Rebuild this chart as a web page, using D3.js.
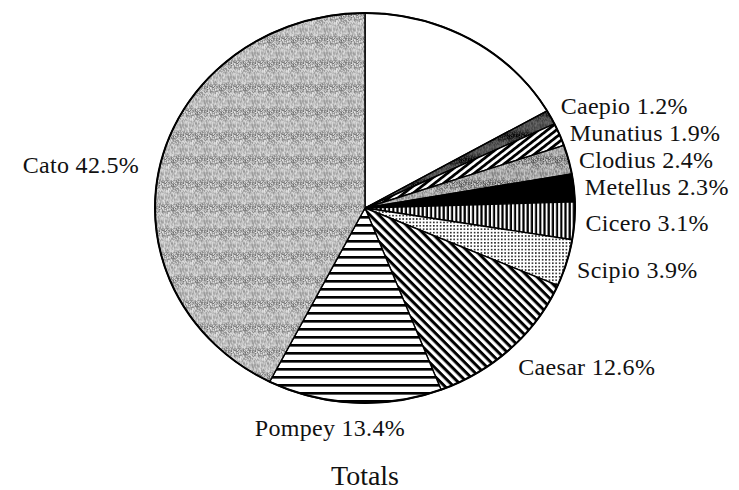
<!DOCTYPE html>
<html>
<head>
<meta charset="utf-8">
<script src="https://cdn.jsdelivr.net/npm/d3@7"></script>
<style>
  body { margin: 0; background: #fff; }
</style>
</head>
<body>
<script>
// slices in drawing order, clockwise from 12 o'clock (first one is the unlabeled rest)
const names  = ["", "Caepio", "Munatius", "Clodius", "Metellus", "Cicero", "Scipio", "Caesar", "Pompey", "Cato"];
const shares = [16.7, 1.2, 1.9, 2.4, 2.3, 3.1, 3.9, 12.6, 13.4, 42.5];
const fills  = ["plain", "darkDots", "slash", "greyDots", "solid", "vert", "dots", "backslash", "horiz", "lightDots"];
const title  = "Totals";

let width = 739, height = 490;
let cx = 365, cy = 208, rx = 210, ry = 195;
let k = ry / rx;
let serif = "'Liberation Serif', 'Times New Roman', Tinos, Times, serif";

let svg = d3.select("body").append("svg")
    .attr("width", width)
    .attr("height", height)
    .attr("font-family", serif);

let defs = svg.append("defs");
let fix = `scale(1, ${1 / k})`; // undo the vertical squash of the pie group

function stripes(id, period, thick, rotate) {
    let p = defs.append("pattern")
        .attr("id", id)
        .attr("patternUnits", "userSpaceOnUse")
        .attr("width", period).attr("height", period)
        .attr("patternTransform", `${fix} rotate(${rotate})`);
    p.append("rect").attr("width", period).attr("height", period).attr("fill", "#fff");
    p.append("rect").attr("width", period).attr("height", thick).attr("fill", "#000");
}

stripes("slash", 5.5, 2.8, -38);
stripes("backslash", 6.2, 3, 45);
stripes("vert", 4.2, 2.2, 90);
stripes("horiz", 8, 2.6, 0);

let dp = defs.append("pattern")
    .attr("id", "dots")
    .attr("patternUnits", "userSpaceOnUse")
    .attr("width", 3.4).attr("height", 3.4)
    .attr("patternTransform", fix);
dp.append("rect").attr("width", 3.4).attr("height", 3.4).attr("fill", "#fff");
dp.append("rect").attr("width", 1.6).attr("height", 1.6).attr("fill", "#222");

// speckled greys, fixed hash so the texture is the same every time
function hash(i, j) {
    let s = Math.sin(i * 12.9898 + j * 78.233) * 43758.5453;
    return s - Math.floor(s);
}

function speckle(id, base, spread) {
    let n = 24;
    let p = defs.append("pattern")
        .attr("id", id)
        .attr("patternUnits", "userSpaceOnUse")
        .attr("width", n).attr("height", n)
        .attr("patternTransform", fix);
    for (let i = 0; i < n; i++) {
        for (let j = 0; j < n; j++) {
            let h = hash(i, j) - 0.5;
            let v = Math.max(0, Math.min(255, Math.round(base + h * spread)));
            p.append("rect")
                .attr("x", i).attr("y", j)
                .attr("width", 1).attr("height", 1)
                .attr("fill", d3.rgb(v, v, v));
        }
    }
}

speckle("lightDots", 168, 120);
speckle("greyDots", 140, 130);
speckle("darkDots", 30, 80);

let pie = d3.pie().sort(null).value((d) => d);
let arcs = pie(shares);

let arc = d3.arc().innerRadius(0).outerRadius(rx);

let g = svg.append("g")
    .attr("transform", `translate(${cx}, ${cy}) scale(1, ${k})`);

g.selectAll("path")
    .data(arcs)
    .enter()
        .append("path")
        .attr("d", arc)
        .attr("fill", (d, i) => {
            let f = fills[i];
            if (f == "plain") return "#fff";
            if (f == "solid") return "#000";
            return `url(#${f})`;
        })
        .attr("stroke", "#000")
        .attr("stroke-width", 1.4)
        .attr("stroke-linejoin", "round")
        .attr("vector-effect", "non-scaling-stroke");

g.append("ellipse")
    .attr("rx", rx).attr("ry", rx)
    .attr("fill", "none")
    .attr("stroke", "#000")
    .attr("stroke-width", 2)
    .attr("vector-effect", "non-scaling-stroke");

// label positions on a bigger ellipse at the mid angle
let lrx = rx + 11, lry = ry + 25;
let labels = arcs.map((d, i) => {
    let a = (d.startAngle + d.endAngle) / 2;
    let s = Math.sin(a);
    return {
        text: names[i] ? `${names[i]} ${shares[i].toFixed(1)}%` : "",
        x: cx + lrx * s,
        y: cy - lry * Math.cos(a),
        anchor: Math.abs(s) < 0.3 ? "middle" : (s > 0 ? "start" : "end"),
        side: s > 0 ? 1 : -1
    };
}).filter((d) => d.text);

// push the crowded right-hand labels apart
let right = labels.filter((d) => d.side > 0 && d.anchor == "start").sort((a, b) => a.y - b.y);
let gap = 27;
for (let i = 1; i < right.length; i++) {
    if (right[i].y - right[i - 1].y < gap) right[i].y = right[i - 1].y + gap;
}

svg.selectAll("text.label")
    .data(labels)
    .enter()
        .append("text")
        .attr("class", "label")
        .attr("x", (d) => d.anchor == "middle" ? d.x - 24 : (d.anchor == "end" ? d.x - 11 : d.x))
        .attr("y", (d) => d.anchor == "end" ? d.y + 8 : d.y)
        .attr("dy", "0.35em")
        .attr("text-anchor", (d) => d.anchor)
        .attr("font-size", 24)
        .attr("letter-spacing", 0.3)
        .attr("fill", "#111")
        .text((d) => d.text);

svg.append("text")
    .attr("x", cx)
    .attr("y", 485)
    .attr("text-anchor", "middle")
    .attr("font-size", 28)
    .attr("fill", "#111")
    .text(title);
</script>
</body>
</html>
